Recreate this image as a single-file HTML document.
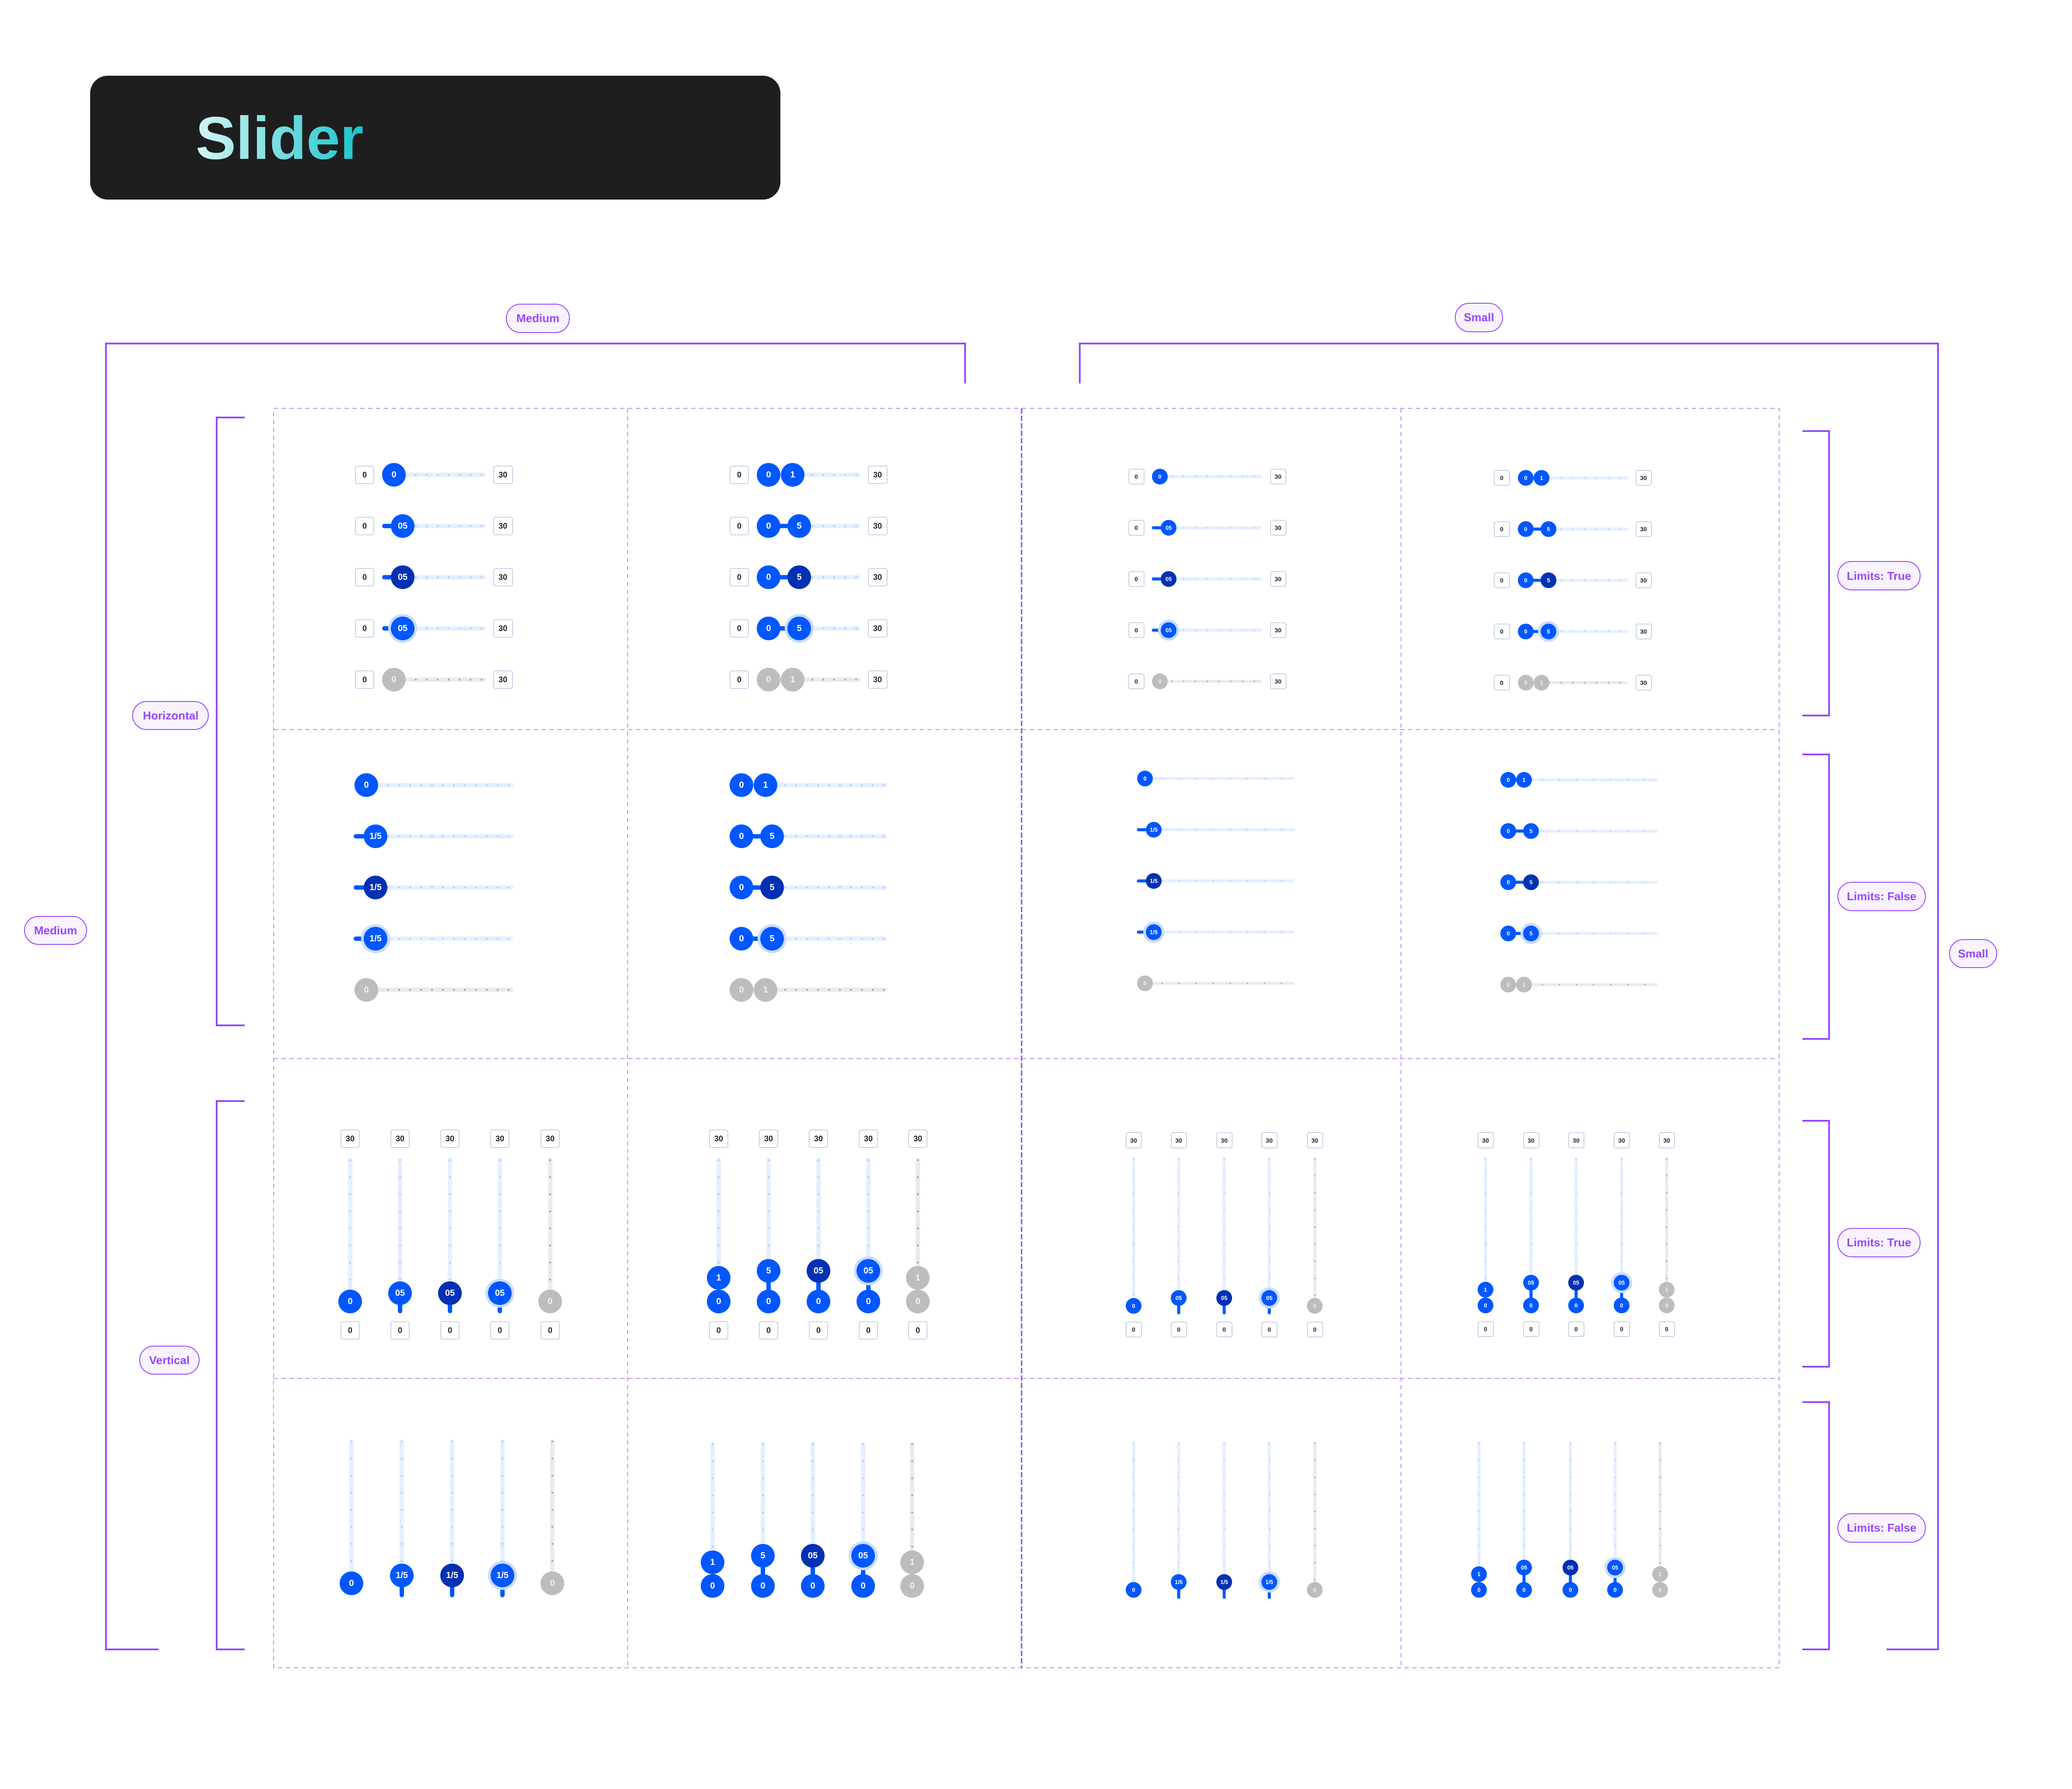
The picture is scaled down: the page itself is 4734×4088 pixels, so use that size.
<!DOCTYPE html>
<html><head><meta charset="utf-8"><style>
html,body{margin:0;padding:0;background:#fff}
svg{display:block}
text{font-family:"Liberation Sans",sans-serif;text-anchor:middle;dominant-baseline:central}
.bm{fill:#fff;stroke:#c5d4e8;stroke-width:2;rx:4px}
.tb{font-size:18px;font-weight:bold;fill:#222}
.tbs{font-size:14px;font-weight:bold;fill:#222}
.tw{font-size:20px;font-weight:600;fill:#fff}
.tws{font-size:13px;font-weight:600;fill:#fff}
.tg{fill:#f0f0f0}
.tr{stroke:#e4efff;stroke-width:10;stroke-linecap:round}
.trs{stroke:#e4efff;stroke-width:7;stroke-linecap:round}
.tgr{stroke:#ebebeb}
.dt{stroke:#a9c8ff;stroke-width:4;stroke-linecap:round;stroke-dasharray:0 25}
.dts{stroke:#a9c8ff;stroke-width:3;stroke-linecap:round;stroke-dasharray:0 27}
.dtv{stroke:#a9c8ff;stroke-width:4;stroke-linecap:round;stroke-dasharray:0 39}
.dtsv{stroke:#a9c8ff;stroke-width:3;stroke-linecap:round;stroke-dasharray:0 39}
.dgr{stroke:#9a9a9a}
.fl{stroke:#0057ff;stroke-width:10;stroke-linecap:round}
.fls{stroke:#0057ff;stroke-width:7;stroke-linecap:round}
.b{fill:#0057ff}.d{fill:#0030b3}.g{fill:#bdbdbd}.h{fill:#c9dcff}
.br{fill:none;stroke:#9747ff;stroke-width:4}
.pl{fill:#f8f3ff;stroke:#9747ff;stroke-width:2}
.pt{font-size:26px;font-weight:bold;fill:#9747ff}
.dash{fill:none;stroke:#c18bff;stroke-width:2;stroke-dasharray:10 8}
</style></head><body>
<svg width="4734" height="4088" viewBox="0 0 4734 4088" xmlns="http://www.w3.org/2000/svg">
<defs><linearGradient id="tg" x1="0" x2="1" y1="0" y2="0"><stop offset="0" stop-color="#d4f7f3"/><stop offset="1" stop-color="#18c4cc"/></linearGradient></defs>
<rect x="206" y="173" width="1577" height="283" rx="40" fill="#1e1e1e"/>
<text x="447" y="363" style="text-anchor:start;dominant-baseline:alphabetic;font-size:138px;font-weight:bold" fill="url(#tg)">Slider</text>

<!-- grid -->
<rect class="dash" x="625" y="933" width="3440" height="2878"/>
<line class="dash" x1="1434" y1="933" x2="1434" y2="3811"/>
<line class="dash" x1="3201" y1="933" x2="3201" y2="3811"/>
<line x1="2334" y1="933" x2="2334" y2="3811" stroke="#8a3ffc" stroke-width="3" stroke-dasharray="12 5"/>
<line class="dash" x1="625" y1="1667" x2="4065" y2="1667"/>
<line class="dash" x1="625" y1="2419" x2="4065" y2="2419"/>
<line class="dash" x1="625" y1="3150" x2="4065" y2="3150"/>

<!-- brackets -->
<path class="br" d="M362,3769 H242 V785 H2205 V876"/>
<path class="br" d="M2467,876 V785 H4428 V3769 H4310"/>
<path class="br" d="M559,954 H495 V2343 H559"/>
<path class="br" d="M559,2516 H495 V3769 H559"/>
<path class="br" d="M4118,985 H4179 V1635 H4118"/>
<path class="br" d="M4118,1724 H4179 V2374 H4118"/>
<path class="br" d="M4118,2561 H4179 V3123 H4118"/>
<path class="br" d="M4118,3204 H4179 V3769 H4118"/>

<!-- labels -->
<rect class="pl" x="1157" y="695" width="144" height="65" rx="32"/><text class="pt" x="1229" y="727">Medium</text>
<rect class="pl" x="3325" y="693" width="108" height="65" rx="32"/><text class="pt" x="3379" y="725">Small</text>
<rect class="pl" x="56" y="2094" width="142" height="64" rx="32"/><text class="pt" x="127" y="2126">Medium</text>
<rect class="pl" x="4454" y="2147" width="108" height="64" rx="32"/><text class="pt" x="4508" y="2179">Small</text>
<rect class="pl" x="303" y="1603" width="173" height="64" rx="32"/><text class="pt" x="390" y="1635">Horizontal</text>
<rect class="pl" x="319" y="3076" width="136" height="64" rx="32"/><text class="pt" x="387" y="3108">Vertical</text>
<rect class="pl" x="4199" y="1283" width="188" height="65" rx="32"/><text class="pt" x="4293" y="1316">Limits: True</text>
<rect class="pl" x="4199" y="2016" width="200" height="65" rx="32"/><text class="pt" x="4299" y="2048">Limits: False</text>
<rect class="pl" x="4199" y="2807" width="188" height="65" rx="32"/><text class="pt" x="4293" y="2839">Limits: True</text>
<rect class="pl" x="4199" y="3459" width="200" height="65" rx="32"/><text class="pt" x="4299" y="3491">Limits: False</text>

<!-- A: medium H limits col1 -->
<g transform="translate(0,1085)"><rect class="bm" x="812" y="-20" width="42" height="40"/><text class="tb" x="833">0</text><rect class="bm" x="1128" y="-20" width="43" height="40"/><text class="tb" x="1149">30</text><line class="tr" x1="878" x2="1105"/><line class="dt" x1="900" x2="1105"/><circle class="b" cx="900" r="27"/><text class="tw" x="900">0</text></g>
<g transform="translate(0,1202)"><rect class="bm" x="812" y="-20" width="42" height="40"/><text class="tb" x="833">0</text><rect class="bm" x="1128" y="-20" width="43" height="40"/><text class="tb" x="1149">30</text><line class="tr" x1="878" x2="1105"/><line class="dt" x1="900" x2="1105"/><line class="fl" x1="878" x2="920"/><circle class="b" cx="920" r="27"/><text class="tw" x="920">05</text></g>
<g transform="translate(0,1319)"><rect class="bm" x="812" y="-20" width="42" height="40"/><text class="tb" x="833">0</text><rect class="bm" x="1128" y="-20" width="43" height="40"/><text class="tb" x="1149">30</text><line class="tr" x1="878" x2="1105"/><line class="dt" x1="900" x2="1105"/><line class="fl" x1="878" x2="920"/><circle class="d" cx="920" r="27"/><text class="tw" x="920">05</text></g>
<g transform="translate(0,1436)"><rect class="bm" x="812" y="-20" width="42" height="40"/><text class="tb" x="833">0</text><rect class="bm" x="1128" y="-20" width="43" height="40"/><text class="tb" x="1149">30</text><line class="tr" x1="878" x2="1105"/><line class="dt" x1="900" x2="1105"/><line class="fl" x1="878" x2="920"/><circle class="h" cx="920" r="33"/><circle class="b" cx="920" r="27"/><text class="tw" x="920">05</text></g>
<g transform="translate(0,1553)"><rect class="bm" x="812" y="-20" width="42" height="40"/><text class="tb" x="833">0</text><rect class="bm" x="1128" y="-20" width="43" height="40"/><text class="tb" x="1149">30</text><line class="tr tgr" x1="878" x2="1105"/><line class="dt dgr" x1="900" x2="1105"/><circle class="g" cx="900" r="27"/><text class="tw tg" x="900">0</text></g>

<!-- B: medium H limits col2 -->
<g transform="translate(0,1085)"><rect class="bm" x="1668" y="-20" width="42" height="40"/><text class="tb" x="1689">0</text><rect class="bm" x="1984" y="-20" width="43" height="40"/><text class="tb" x="2005">30</text><line class="tr" x1="1734" x2="1961"/><line class="dt" x1="1756" x2="1961"/><circle class="b" cx="1756" r="27"/><text class="tw" x="1756">0</text><circle class="b" cx="1811" r="27"/><text class="tw" x="1811">1</text></g>
<g transform="translate(0,1202)"><rect class="bm" x="1668" y="-20" width="42" height="40"/><text class="tb" x="1689">0</text><rect class="bm" x="1984" y="-20" width="43" height="40"/><text class="tb" x="2005">30</text><line class="tr" x1="1734" x2="1961"/><line class="dt" x1="1756" x2="1961"/><line class="fl" x1="1756" x2="1826"/><circle class="b" cx="1756" r="27"/><text class="tw" x="1756">0</text><circle class="b" cx="1826" r="27"/><text class="tw" x="1826">5</text></g>
<g transform="translate(0,1319)"><rect class="bm" x="1668" y="-20" width="42" height="40"/><text class="tb" x="1689">0</text><rect class="bm" x="1984" y="-20" width="43" height="40"/><text class="tb" x="2005">30</text><line class="tr" x1="1734" x2="1961"/><line class="dt" x1="1756" x2="1961"/><line class="fl" x1="1756" x2="1826"/><circle class="b" cx="1756" r="27"/><text class="tw" x="1756">0</text><circle class="d" cx="1826" r="27"/><text class="tw" x="1826">5</text></g>
<g transform="translate(0,1436)"><rect class="bm" x="1668" y="-20" width="42" height="40"/><text class="tb" x="1689">0</text><rect class="bm" x="1984" y="-20" width="43" height="40"/><text class="tb" x="2005">30</text><line class="tr" x1="1734" x2="1961"/><line class="dt" x1="1756" x2="1961"/><line class="fl" x1="1756" x2="1826"/><circle class="b" cx="1756" r="27"/><text class="tw" x="1756">0</text><circle class="h" cx="1826" r="33"/><circle class="b" cx="1826" r="27"/><text class="tw" x="1826">5</text></g>
<g transform="translate(0,1553)"><rect class="bm" x="1668" y="-20" width="42" height="40"/><text class="tb" x="1689">0</text><rect class="bm" x="1984" y="-20" width="43" height="40"/><text class="tb" x="2005">30</text><line class="tr tgr" x1="1734" x2="1961"/><line class="dt dgr" x1="1756" x2="1961"/><circle class="g" cx="1756" r="27"/><text class="tw tg" x="1756">0</text><circle class="g" cx="1811" r="27"/><text class="tw tg" x="1811">1</text></g>

<!-- C: small H limits col3 -->
<g transform="translate(0,1089)"><rect class="bm" x="2579" y="-17" width="35" height="34"/><text class="tbs" x="2596">0</text><rect class="bm" x="2903" y="-17" width="35" height="34"/><text class="tbs" x="2920">30</text><line class="trs" x1="2635" x2="2880"/><line class="dts" x1="2650" x2="2880"/><circle class="b" cx="2650" r="18"/><text class="tws" x="2650">0</text></g>
<g transform="translate(0,1206)"><rect class="bm" x="2579" y="-17" width="35" height="34"/><text class="tbs" x="2596">0</text><rect class="bm" x="2903" y="-17" width="35" height="34"/><text class="tbs" x="2920">30</text><line class="trs" x1="2635" x2="2880"/><line class="dts" x1="2650" x2="2880"/><line class="fls" x1="2635" x2="2670"/><circle class="b" cx="2670" r="18"/><text class="tws" x="2670">05</text></g>
<g transform="translate(0,1323)"><rect class="bm" x="2579" y="-17" width="35" height="34"/><text class="tbs" x="2596">0</text><rect class="bm" x="2903" y="-17" width="35" height="34"/><text class="tbs" x="2920">30</text><line class="trs" x1="2635" x2="2880"/><line class="dts" x1="2650" x2="2880"/><line class="fls" x1="2635" x2="2670"/><circle class="d" cx="2670" r="18"/><text class="tws" x="2670">05</text></g>
<g transform="translate(0,1440)"><rect class="bm" x="2579" y="-17" width="35" height="34"/><text class="tbs" x="2596">0</text><rect class="bm" x="2903" y="-17" width="35" height="34"/><text class="tbs" x="2920">30</text><line class="trs" x1="2635" x2="2880"/><line class="dts" x1="2650" x2="2880"/><line class="fls" x1="2635" x2="2670"/><circle class="h" cx="2670" r="24"/><circle class="b" cx="2670" r="18"/><text class="tws" x="2670">05</text></g>
<g transform="translate(0,1557)"><rect class="bm" x="2579" y="-17" width="35" height="34"/><text class="tbs" x="2596">0</text><rect class="bm" x="2903" y="-17" width="35" height="34"/><text class="tbs" x="2920">30</text><line class="trs tgr" x1="2635" x2="2880"/><line class="dts dgr" x1="2650" x2="2880"/><circle class="g" cx="2650" r="18"/><text class="tws tg" x="2650">0</text></g>

<!-- D: small H limits col4 -->
<g transform="translate(0,1092)"><rect class="bm" x="3414" y="-17" width="35" height="34"/><text class="tbs" x="3431">0</text><rect class="bm" x="3738" y="-17" width="35" height="34"/><text class="tbs" x="3755">30</text><line class="trs" x1="3471" x2="3716"/><line class="dts" x1="3486" x2="3716"/><circle class="b" cx="3486" r="18"/><text class="tws" x="3486">0</text><circle class="b" cx="3522" r="18"/><text class="tws" x="3522">1</text></g>
<g transform="translate(0,1209)"><rect class="bm" x="3414" y="-17" width="35" height="34"/><text class="tbs" x="3431">0</text><rect class="bm" x="3738" y="-17" width="35" height="34"/><text class="tbs" x="3755">30</text><line class="trs" x1="3471" x2="3716"/><line class="dts" x1="3486" x2="3716"/><line class="fls" x1="3486" x2="3538"/><circle class="b" cx="3486" r="18"/><text class="tws" x="3486">0</text><circle class="b" cx="3538" r="18"/><text class="tws" x="3538">5</text></g>
<g transform="translate(0,1326)"><rect class="bm" x="3414" y="-17" width="35" height="34"/><text class="tbs" x="3431">0</text><rect class="bm" x="3738" y="-17" width="35" height="34"/><text class="tbs" x="3755">30</text><line class="trs" x1="3471" x2="3716"/><line class="dts" x1="3486" x2="3716"/><line class="fls" x1="3486" x2="3538"/><circle class="b" cx="3486" r="18"/><text class="tws" x="3486">0</text><circle class="d" cx="3538" r="18"/><text class="tws" x="3538">5</text></g>
<g transform="translate(0,1443)"><rect class="bm" x="3414" y="-17" width="35" height="34"/><text class="tbs" x="3431">0</text><rect class="bm" x="3738" y="-17" width="35" height="34"/><text class="tbs" x="3755">30</text><line class="trs" x1="3471" x2="3716"/><line class="dts" x1="3486" x2="3716"/><line class="fls" x1="3486" x2="3538"/><circle class="b" cx="3486" r="18"/><text class="tws" x="3486">0</text><circle class="h" cx="3538" r="24"/><circle class="b" cx="3538" r="18"/><text class="tws" x="3538">5</text></g>
<g transform="translate(0,1560)"><rect class="bm" x="3414" y="-17" width="35" height="34"/><text class="tbs" x="3431">0</text><rect class="bm" x="3738" y="-17" width="35" height="34"/><text class="tbs" x="3755">30</text><line class="trs tgr" x1="3471" x2="3716"/><line class="dts dgr" x1="3486" x2="3716"/><circle class="g" cx="3486" r="18"/><text class="tws tg" x="3486">0</text><circle class="g" cx="3522" r="18"/><text class="tws tg" x="3522">1</text></g>

<!-- E: medium H no limits col1 -->
<g transform="translate(0,1794)"><line class="tr" x1="813" x2="1168"/><line class="dt" x1="837" x2="1168"/><circle class="b" cx="837" r="27"/><text class="tw" x="837">0</text></g>
<g transform="translate(0,1911)"><line class="tr" x1="813" x2="1168"/><line class="dt" x1="837" x2="1168"/><line class="fl" x1="813" x2="858"/><circle class="b" cx="858" r="27"/><text class="tw" x="858">1/5</text></g>
<g transform="translate(0,2028)"><line class="tr" x1="813" x2="1168"/><line class="dt" x1="837" x2="1168"/><line class="fl" x1="813" x2="858"/><circle class="d" cx="858" r="27"/><text class="tw" x="858">1/5</text></g>
<g transform="translate(0,2145)"><line class="tr" x1="813" x2="1168"/><line class="dt" x1="837" x2="1168"/><line class="fl" x1="813" x2="858"/><circle class="h" cx="858" r="33"/><circle class="b" cx="858" r="27"/><text class="tw" x="858">1/5</text></g>
<g transform="translate(0,2262)"><line class="tr tgr" x1="813" x2="1168"/><line class="dt dgr" x1="837" x2="1168"/><circle class="g" cx="837" r="27"/><text class="tw tg" x="837">0</text></g>

<!-- F: medium H no limits col2 -->
<g transform="translate(0,1794)"><line class="tr" x1="1670" x2="2022"/><line class="dt" x1="1694" x2="2022"/><circle class="b" cx="1694" r="27"/><text class="tw" x="1694">0</text><circle class="b" cx="1749" r="27"/><text class="tw" x="1749">1</text></g>
<g transform="translate(0,1911)"><line class="tr" x1="1670" x2="2022"/><line class="dt" x1="1694" x2="2022"/><line class="fl" x1="1694" x2="1764"/><circle class="b" cx="1694" r="27"/><text class="tw" x="1694">0</text><circle class="b" cx="1764" r="27"/><text class="tw" x="1764">5</text></g>
<g transform="translate(0,2028)"><line class="tr" x1="1670" x2="2022"/><line class="dt" x1="1694" x2="2022"/><line class="fl" x1="1694" x2="1764"/><circle class="b" cx="1694" r="27"/><text class="tw" x="1694">0</text><circle class="d" cx="1764" r="27"/><text class="tw" x="1764">5</text></g>
<g transform="translate(0,2145)"><line class="tr" x1="1670" x2="2022"/><line class="dt" x1="1694" x2="2022"/><line class="fl" x1="1694" x2="1764"/><circle class="b" cx="1694" r="27"/><text class="tw" x="1694">0</text><circle class="h" cx="1764" r="33"/><circle class="b" cx="1764" r="27"/><text class="tw" x="1764">5</text></g>
<g transform="translate(0,2262)"><line class="tr tgr" x1="1670" x2="2022"/><line class="dt dgr" x1="1694" x2="2022"/><circle class="g" cx="1694" r="27"/><text class="tw tg" x="1694">0</text><circle class="g" cx="1749" r="27"/><text class="tw tg" x="1749">1</text></g>

<!-- G: small H no limits col3 -->
<g transform="translate(0,1779)"><line class="trs" x1="2601" x2="2954"/><line class="dtsv" x1="2616" x2="2954"/><circle class="b" cx="2616" r="18"/><text class="tws" x="2616">0</text></g>
<g transform="translate(0,1896)"><line class="trs" x1="2601" x2="2954"/><line class="dtsv" x1="2616" x2="2954"/><line class="fls" x1="2601" x2="2636"/><circle class="b" cx="2636" r="18"/><text class="tws" x="2636">1/5</text></g>
<g transform="translate(0,2013)"><line class="trs" x1="2601" x2="2954"/><line class="dtsv" x1="2616" x2="2954"/><line class="fls" x1="2601" x2="2636"/><circle class="d" cx="2636" r="18"/><text class="tws" x="2636">1/5</text></g>
<g transform="translate(0,2130)"><line class="trs" x1="2601" x2="2954"/><line class="dtsv" x1="2616" x2="2954"/><line class="fls" x1="2601" x2="2636"/><circle class="h" cx="2636" r="24"/><circle class="b" cx="2636" r="18"/><text class="tws" x="2636">1/5</text></g>
<g transform="translate(0,2247)"><line class="trs tgr" x1="2601" x2="2954"/><line class="dtsv dgr" x1="2616" x2="2954"/><circle class="g" cx="2616" r="18"/><text class="tws tg" x="2616">0</text></g>

<!-- H: small H no limits col4 -->
<g transform="translate(0,1782)"><line class="trs" x1="3431" x2="3784"/><line class="dtsv" x1="3446" x2="3784"/><circle class="b" cx="3446" r="18"/><text class="tws" x="3446">0</text><circle class="b" cx="3482" r="18"/><text class="tws" x="3482">1</text></g>
<g transform="translate(0,1899)"><line class="trs" x1="3431" x2="3784"/><line class="dtsv" x1="3446" x2="3784"/><line class="fls" x1="3446" x2="3498"/><circle class="b" cx="3446" r="18"/><text class="tws" x="3446">0</text><circle class="b" cx="3498" r="18"/><text class="tws" x="3498">5</text></g>
<g transform="translate(0,2016)"><line class="trs" x1="3431" x2="3784"/><line class="dtsv" x1="3446" x2="3784"/><line class="fls" x1="3446" x2="3498"/><circle class="b" cx="3446" r="18"/><text class="tws" x="3446">0</text><circle class="d" cx="3498" r="18"/><text class="tws" x="3498">5</text></g>
<g transform="translate(0,2133)"><line class="trs" x1="3431" x2="3784"/><line class="dtsv" x1="3446" x2="3784"/><line class="fls" x1="3446" x2="3498"/><circle class="b" cx="3446" r="18"/><text class="tws" x="3446">0</text><circle class="h" cx="3498" r="24"/><circle class="b" cx="3498" r="18"/><text class="tws" x="3498">5</text></g>
<g transform="translate(0,2250)"><line class="trs tgr" x1="3431" x2="3784"/><line class="dtsv dgr" x1="3446" x2="3784"/><circle class="g" cx="3446" r="18"/><text class="tws tg" x="3446">0</text><circle class="g" cx="3482" r="18"/><text class="tws tg" x="3482">1</text></g>

<!-- I: medium V limits col1 -->
<g transform="translate(800,0)"><rect class="bm" x="-21" y="2582" width="42" height="40"/><text class="tb" y="2602">30</text><line class="tr" y1="2651" y2="2974"/><line class="dtv" y1="2651" y2="2974"/><rect class="bm" x="-21" y="3020" width="42" height="40"/><text class="tb" y="3040">0</text><circle class="b" cy="2974" r="27"/><text class="tw" y="2974">0</text></g>
<g transform="translate(914,0)"><rect class="bm" x="-21" y="2582" width="42" height="40"/><text class="tb" y="2602">30</text><line class="tr" y1="2651" y2="2974"/><line class="dtv" y1="2651" y2="2974"/><rect class="bm" x="-21" y="3020" width="42" height="40"/><text class="tb" y="3040">0</text><line class="fl" y1="2955" y2="2996"/><circle class="b" cy="2955" r="27"/><text class="tw" y="2955">05</text></g>
<g transform="translate(1028,0)"><rect class="bm" x="-21" y="2582" width="42" height="40"/><text class="tb" y="2602">30</text><line class="tr" y1="2651" y2="2974"/><line class="dtv" y1="2651" y2="2974"/><rect class="bm" x="-21" y="3020" width="42" height="40"/><text class="tb" y="3040">0</text><line class="fl" y1="2955" y2="2996"/><circle class="d" cy="2955" r="27"/><text class="tw" y="2955">05</text></g>
<g transform="translate(1142,0)"><rect class="bm" x="-21" y="2582" width="42" height="40"/><text class="tb" y="2602">30</text><line class="tr" y1="2651" y2="2974"/><line class="dtv" y1="2651" y2="2974"/><rect class="bm" x="-21" y="3020" width="42" height="40"/><text class="tb" y="3040">0</text><line class="fl" y1="2955" y2="2996"/><circle class="h" cy="2955" r="33"/><circle class="b" cy="2955" r="27"/><text class="tw" y="2955">05</text></g>
<g transform="translate(1257,0)"><rect class="bm" x="-21" y="2582" width="42" height="40"/><text class="tb" y="2602">30</text><line class="tr tgr" y1="2651" y2="2974"/><line class="dtv dgr" y1="2651" y2="2974"/><rect class="bm" x="-21" y="3020" width="42" height="40"/><text class="tb" y="3040">0</text><circle class="g" cy="2974" r="27"/><text class="tw tg" y="2974">0</text></g>

<!-- J: medium V limits col2 -->
<g transform="translate(1642,0)"><rect class="bm" x="-21" y="2582" width="42" height="40"/><text class="tb" y="2602">30</text><line class="tr" y1="2651" y2="2974"/><line class="dtv" y1="2651" y2="2974"/><rect class="bm" x="-21" y="3020" width="42" height="40"/><text class="tb" y="3040">0</text><circle class="b" cy="2920" r="27"/><text class="tw" y="2920">1</text><circle class="b" cy="2974" r="27"/><text class="tw" y="2974">0</text></g>
<g transform="translate(1756,0)"><rect class="bm" x="-21" y="2582" width="42" height="40"/><text class="tb" y="2602">30</text><line class="tr" y1="2651" y2="2974"/><line class="dtv" y1="2651" y2="2974"/><rect class="bm" x="-21" y="3020" width="42" height="40"/><text class="tb" y="3040">0</text><line class="fl" y1="2904" y2="2974"/><circle class="b" cy="2904" r="27"/><text class="tw" y="2904">5</text><circle class="b" cy="2974" r="27"/><text class="tw" y="2974">0</text></g>
<g transform="translate(1870,0)"><rect class="bm" x="-21" y="2582" width="42" height="40"/><text class="tb" y="2602">30</text><line class="tr" y1="2651" y2="2974"/><line class="dtv" y1="2651" y2="2974"/><rect class="bm" x="-21" y="3020" width="42" height="40"/><text class="tb" y="3040">0</text><line class="fl" y1="2904" y2="2974"/><circle class="d" cy="2904" r="27"/><text class="tw" y="2904">05</text><circle class="b" cy="2974" r="27"/><text class="tw" y="2974">0</text></g>
<g transform="translate(1984,0)"><rect class="bm" x="-21" y="2582" width="42" height="40"/><text class="tb" y="2602">30</text><line class="tr" y1="2651" y2="2974"/><line class="dtv" y1="2651" y2="2974"/><rect class="bm" x="-21" y="3020" width="42" height="40"/><text class="tb" y="3040">0</text><line class="fl" y1="2904" y2="2974"/><circle class="h" cy="2904" r="33"/><circle class="b" cy="2904" r="27"/><text class="tw" y="2904">05</text><circle class="b" cy="2974" r="27"/><text class="tw" y="2974">0</text></g>
<g transform="translate(2097,0)"><rect class="bm" x="-21" y="2582" width="42" height="40"/><text class="tb" y="2602">30</text><line class="tr tgr" y1="2651" y2="2974"/><line class="dtv dgr" y1="2651" y2="2974"/><rect class="bm" x="-21" y="3020" width="42" height="40"/><text class="tb" y="3040">0</text><circle class="g" cy="2920" r="27"/><text class="tw tg" y="2920">1</text><circle class="g" cy="2974" r="27"/><text class="tw tg" y="2974">0</text></g>

<!-- K: medium V no limits col1 -->
<g transform="translate(803,0)"><line class="tr" y1="3294" y2="3618"/><line class="dtv" y1="3294" y2="3618"/><circle class="b" cy="3618" r="27"/><text class="tw" y="3618">0</text></g>
<g transform="translate(918,0)"><line class="tr" y1="3294" y2="3618"/><line class="dtv" y1="3294" y2="3618"/><line class="fl" y1="3600" y2="3645"/><circle class="b" cy="3600" r="27"/><text class="tw" y="3600">1/5</text></g>
<g transform="translate(1033,0)"><line class="tr" y1="3294" y2="3618"/><line class="dtv" y1="3294" y2="3618"/><line class="fl" y1="3600" y2="3645"/><circle class="d" cy="3600" r="27"/><text class="tw" y="3600">1/5</text></g>
<g transform="translate(1148,0)"><line class="tr" y1="3294" y2="3618"/><line class="dtv" y1="3294" y2="3618"/><line class="fl" y1="3600" y2="3645"/><circle class="h" cy="3600" r="33"/><circle class="b" cy="3600" r="27"/><text class="tw" y="3600">1/5</text></g>
<g transform="translate(1262,0)"><line class="tr tgr" y1="3294" y2="3618"/><line class="dtv dgr" y1="3294" y2="3618"/><circle class="g" cy="3618" r="27"/><text class="tw tg" y="3618">0</text></g>

<!-- L: medium V no limits col2 -->
<g transform="translate(1628,0)"><line class="tr" y1="3300" y2="3624"/><line class="dtv" y1="3300" y2="3624"/><circle class="b" cy="3570" r="27"/><text class="tw" y="3570">1</text><circle class="b" cy="3624" r="27"/><text class="tw" y="3624">0</text></g>
<g transform="translate(1743,0)"><line class="tr" y1="3300" y2="3624"/><line class="dtv" y1="3300" y2="3624"/><line class="fl" y1="3555" y2="3624"/><circle class="b" cy="3555" r="27"/><text class="tw" y="3555">5</text><circle class="b" cy="3624" r="27"/><text class="tw" y="3624">0</text></g>
<g transform="translate(1857,0)"><line class="tr" y1="3300" y2="3624"/><line class="dtv" y1="3300" y2="3624"/><line class="fl" y1="3555" y2="3624"/><circle class="d" cy="3555" r="27"/><text class="tw" y="3555">05</text><circle class="b" cy="3624" r="27"/><text class="tw" y="3624">0</text></g>
<g transform="translate(1972,0)"><line class="tr" y1="3300" y2="3624"/><line class="dtv" y1="3300" y2="3624"/><line class="fl" y1="3555" y2="3624"/><circle class="h" cy="3555" r="33"/><circle class="b" cy="3555" r="27"/><text class="tw" y="3555">05</text><circle class="b" cy="3624" r="27"/><text class="tw" y="3624">0</text></g>
<g transform="translate(2084,0)"><line class="tr tgr" y1="3300" y2="3624"/><line class="dtv dgr" y1="3300" y2="3624"/><circle class="g" cy="3570" r="27"/><text class="tw tg" y="3570">1</text><circle class="g" cy="3624" r="27"/><text class="tw tg" y="3624">0</text></g>

<!-- M: small V limits col3 -->
<g transform="translate(2590,0)"><rect class="bm" x="-17" y="2588" width="35" height="35"/><text class="tbs" y="2606">30</text><line class="trs" y1="2648" y2="2984"/><line class="dtsv" y1="2648" y2="2984"/><rect class="bm" x="-17" y="3021" width="35" height="34"/><text class="tbs" y="3038">0</text><circle class="b" cy="2984" r="18"/><text class="tws" y="2984">0</text></g>
<g transform="translate(2693,0)"><rect class="bm" x="-17" y="2588" width="35" height="35"/><text class="tbs" y="2606">30</text><line class="trs" y1="2648" y2="2984"/><line class="dtsv" y1="2648" y2="2984"/><rect class="bm" x="-17" y="3021" width="35" height="34"/><text class="tbs" y="3038">0</text><line class="fls" y1="2966" y2="3000"/><circle class="b" cy="2966" r="18"/><text class="tws" y="2966">05</text></g>
<g transform="translate(2797,0)"><rect class="bm" x="-17" y="2588" width="35" height="35"/><text class="tbs" y="2606">30</text><line class="trs" y1="2648" y2="2984"/><line class="dtsv" y1="2648" y2="2984"/><rect class="bm" x="-17" y="3021" width="35" height="34"/><text class="tbs" y="3038">0</text><line class="fls" y1="2966" y2="3000"/><circle class="d" cy="2966" r="18"/><text class="tws" y="2966">05</text></g>
<g transform="translate(2900,0)"><rect class="bm" x="-17" y="2588" width="35" height="35"/><text class="tbs" y="2606">30</text><line class="trs" y1="2648" y2="2984"/><line class="dtsv" y1="2648" y2="2984"/><rect class="bm" x="-17" y="3021" width="35" height="34"/><text class="tbs" y="3038">0</text><line class="fls" y1="2966" y2="3000"/><circle class="h" cy="2966" r="24"/><circle class="b" cy="2966" r="18"/><text class="tws" y="2966">05</text></g>
<g transform="translate(3004,0)"><rect class="bm" x="-17" y="2588" width="35" height="35"/><text class="tbs" y="2606">30</text><line class="trs tgr" y1="2648" y2="2984"/><line class="dtsv dgr" y1="2648" y2="2984"/><rect class="bm" x="-17" y="3021" width="35" height="34"/><text class="tbs" y="3038">0</text><circle class="g" cy="2984" r="18"/><text class="tws tg" y="2984">0</text></g>

<!-- N: small V limits col4 -->
<g transform="translate(3394,0)"><rect class="bm" x="-17" y="2588" width="35" height="35"/><text class="tbs" y="2606">30</text><line class="trs" y1="2648" y2="2983"/><line class="dtsv" y1="2648" y2="2983"/><rect class="bm" x="-17" y="3020" width="35" height="34"/><text class="tbs" y="3037">0</text><circle class="b" cy="2947" r="18"/><text class="tws" y="2947">1</text><circle class="b" cy="2983" r="18"/><text class="tws" y="2983">0</text></g>
<g transform="translate(3498,0)"><rect class="bm" x="-17" y="2588" width="35" height="35"/><text class="tbs" y="2606">30</text><line class="trs" y1="2648" y2="2983"/><line class="dtsv" y1="2648" y2="2983"/><rect class="bm" x="-17" y="3020" width="35" height="34"/><text class="tbs" y="3037">0</text><line class="fls" y1="2931" y2="2983"/><circle class="b" cy="2931" r="18"/><text class="tws" y="2931">05</text><circle class="b" cy="2983" r="18"/><text class="tws" y="2983">0</text></g>
<g transform="translate(3601,0)"><rect class="bm" x="-17" y="2588" width="35" height="35"/><text class="tbs" y="2606">30</text><line class="trs" y1="2648" y2="2983"/><line class="dtsv" y1="2648" y2="2983"/><rect class="bm" x="-17" y="3020" width="35" height="34"/><text class="tbs" y="3037">0</text><line class="fls" y1="2931" y2="2983"/><circle class="d" cy="2931" r="18"/><text class="tws" y="2931">05</text><circle class="b" cy="2983" r="18"/><text class="tws" y="2983">0</text></g>
<g transform="translate(3705,0)"><rect class="bm" x="-17" y="2588" width="35" height="35"/><text class="tbs" y="2606">30</text><line class="trs" y1="2648" y2="2983"/><line class="dtsv" y1="2648" y2="2983"/><rect class="bm" x="-17" y="3020" width="35" height="34"/><text class="tbs" y="3037">0</text><line class="fls" y1="2931" y2="2983"/><circle class="h" cy="2931" r="24"/><circle class="b" cy="2931" r="18"/><text class="tws" y="2931">05</text><circle class="b" cy="2983" r="18"/><text class="tws" y="2983">0</text></g>
<g transform="translate(3808,0)"><rect class="bm" x="-17" y="2588" width="35" height="35"/><text class="tbs" y="2606">30</text><line class="trs tgr" y1="2648" y2="2983"/><line class="dtsv dgr" y1="2648" y2="2983"/><rect class="bm" x="-17" y="3020" width="35" height="34"/><text class="tbs" y="3037">0</text><circle class="g" cy="2947" r="18"/><text class="tws tg" y="2947">1</text><circle class="g" cy="2983" r="18"/><text class="tws tg" y="2983">0</text></g>

<!-- O: small V no limits col3 -->
<g transform="translate(2590,0)"><line class="trs" y1="3298" y2="3633"/><line class="dtsv" y1="3298" y2="3633"/><circle class="b" cy="3633" r="18"/><text class="tws" y="3633">0</text></g>
<g transform="translate(2693,0)"><line class="trs" y1="3298" y2="3633"/><line class="dtsv" y1="3298" y2="3633"/><line class="fls" y1="3615" y2="3650"/><circle class="b" cy="3615" r="18"/><text class="tws" y="3615">1/5</text></g>
<g transform="translate(2797,0)"><line class="trs" y1="3298" y2="3633"/><line class="dtsv" y1="3298" y2="3633"/><line class="fls" y1="3615" y2="3650"/><circle class="d" cy="3615" r="18"/><text class="tws" y="3615">1/5</text></g>
<g transform="translate(2900,0)"><line class="trs" y1="3298" y2="3633"/><line class="dtsv" y1="3298" y2="3633"/><line class="fls" y1="3615" y2="3650"/><circle class="h" cy="3615" r="24"/><circle class="b" cy="3615" r="18"/><text class="tws" y="3615">1/5</text></g>
<g transform="translate(3004,0)"><line class="trs tgr" y1="3298" y2="3633"/><line class="dtsv dgr" y1="3298" y2="3633"/><circle class="g" cy="3633" r="18"/><text class="tws tg" y="3633">0</text></g>

<!-- P: small V no limits col4 -->
<g transform="translate(3379,0)"><line class="trs" y1="3298" y2="3633"/><line class="dtsv" y1="3298" y2="3633"/><circle class="b" cy="3597" r="18"/><text class="tws" y="3597">1</text><circle class="b" cy="3633" r="18"/><text class="tws" y="3633">0</text></g>
<g transform="translate(3482,0)"><line class="trs" y1="3298" y2="3633"/><line class="dtsv" y1="3298" y2="3633"/><line class="fls" y1="3582" y2="3633"/><circle class="b" cy="3582" r="18"/><text class="tws" y="3582">05</text><circle class="b" cy="3633" r="18"/><text class="tws" y="3633">0</text></g>
<g transform="translate(3588,0)"><line class="trs" y1="3298" y2="3633"/><line class="dtsv" y1="3298" y2="3633"/><line class="fls" y1="3582" y2="3633"/><circle class="d" cy="3582" r="18"/><text class="tws" y="3582">05</text><circle class="b" cy="3633" r="18"/><text class="tws" y="3633">0</text></g>
<g transform="translate(3690,0)"><line class="trs" y1="3298" y2="3633"/><line class="dtsv" y1="3298" y2="3633"/><line class="fls" y1="3582" y2="3633"/><circle class="h" cy="3582" r="24"/><circle class="b" cy="3582" r="18"/><text class="tws" y="3582">05</text><circle class="b" cy="3633" r="18"/><text class="tws" y="3633">0</text></g>
<g transform="translate(3793,0)"><line class="trs tgr" y1="3298" y2="3633"/><line class="dtsv dgr" y1="3298" y2="3633"/><circle class="g" cy="3597" r="18"/><text class="tws tg" y="3597">1</text><circle class="g" cy="3633" r="18"/><text class="tws tg" y="3633">0</text></g>
</svg>
</body></html>
